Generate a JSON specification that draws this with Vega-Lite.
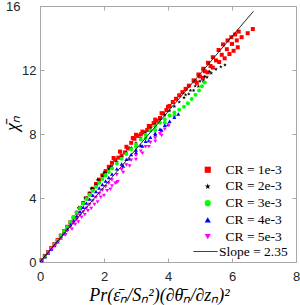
{
  "$schema": "https://vega.github.io/schema/vega-lite/v6.json",
  "width": 256,
  "height": 256,
  "autosize": {"type": "none"},
  "padding": {"left": 40, "top": 6, "right": 4, "bottom": 43},
  "background": "white",
  "config": {
    "view": {"stroke": null},
    "axis": {
      "grid": false,
      "domainColor": "#a8a8a8",
      "tickColor": "#a8a8a8",
      "labelColor": "#262626",
      "labelFont": "Liberation Sans",
      "labelFontSize": 13,
      "tickSize": -4,
      "titleFont": "Liberation Serif",
      "titleFontStyle": "italic",
      "titleFontWeight": "normal",
      "titleFontSize": 18,
      "titleColor": "#000000"
    },
    "legend": {"labelFont": "Liberation Serif", "labelFontSize": 13.5, "labelColor": "#000000", "padding": 0}
  },
  "datasets": {
    "pts": [
      {"s":"CR = 1e-3","x":0.05,"y":0.12},{"s":"CR = 1e-3","x":0.15,"y":0.38},{"s":"CR = 1e-3","x":0.25,"y":0.62},{"s":"CR = 1e-3","x":0.35,"y":0.88},{"s":"CR = 1e-3","x":0.45,"y":1.12},{"s":"CR = 1e-3","x":0.55,"y":1.38},{"s":"CR = 1e-3","x":0.65,"y":1.65},{"s":"CR = 1e-3","x":0.75,"y":1.92},{"s":"CR = 1e-3","x":0.85,"y":2.2},{"s":"CR = 1e-3","x":0.95,"y":2.48},{"s":"CR = 1e-3","x":1.05,"y":2.78},{"s":"CR = 1e-3","x":1.15,"y":3.08},{"s":"CR = 1e-3","x":1.25,"y":3.38},{"s":"CR = 1e-3","x":1.35,"y":3.68},{"s":"CR = 1e-3","x":1.45,"y":3.98},{"s":"CR = 1e-3","x":1.55,"y":4.28},{"s":"CR = 1e-3","x":1.65,"y":4.58},{"s":"CR = 1e-3","x":1.75,"y":4.88},{"s":"CR = 1e-3","x":1.85,"y":5.15},{"s":"CR = 1e-3","x":1.95,"y":5.42},{"s":"CR = 1e-3","x":2.05,"y":5.68},{"s":"CR = 1e-3","x":2.15,"y":5.95},{"s":"CR = 1e-3","x":2.25,"y":6.2},{"s":"CR = 1e-3","x":2.35,"y":6.38},{"s":"CR = 1e-3","x":2.45,"y":6.52},{"s":"CR = 1e-3","x":2.55,"y":6.65},{"s":"CR = 1e-3","x":2.65,"y":6.85},{"s":"CR = 1e-3","x":2.75,"y":7.1},{"s":"CR = 1e-3","x":2.85,"y":7.45},{"s":"CR = 1e-3","x":2.95,"y":7.7},{"s":"CR = 1e-3","x":3.05,"y":7.88},{"s":"CR = 1e-3","x":3.15,"y":7.98},{"s":"CR = 1e-3","x":3.25,"y":8.1},{"s":"CR = 1e-3","x":3.35,"y":8.25},{"s":"CR = 1e-3","x":3.45,"y":8.5},{"s":"CR = 1e-3","x":3.55,"y":8.68},{"s":"CR = 1e-3","x":3.65,"y":8.82},{"s":"CR = 1e-3","x":3.75,"y":9.0},{"s":"CR = 1e-3","x":3.85,"y":9.28},{"s":"CR = 1e-3","x":3.95,"y":9.5},{"s":"CR = 1e-3","x":4.05,"y":9.75},{"s":"CR = 1e-3","x":4.15,"y":10.0},{"s":"CR = 1e-3","x":4.25,"y":10.2},{"s":"CR = 1e-3","x":4.35,"y":10.42},{"s":"CR = 1e-3","x":4.45,"y":10.62},{"s":"CR = 1e-3","x":4.55,"y":10.82},{"s":"CR = 1e-3","x":4.65,"y":11.02},
      {"s":"CR = 1e-3","x":2.3,"y":6.5},{"s":"CR = 1e-3","x":2.5,"y":6.9},{"s":"CR = 1e-3","x":2.7,"y":7.2},{"s":"CR = 1e-3","x":2.9,"y":7.75},{"s":"CR = 1e-3","x":3.0,"y":7.95},{"s":"CR = 1e-3","x":3.2,"y":8.15},{"s":"CR = 1e-3","x":3.4,"y":8.5},{"s":"CR = 1e-3","x":3.6,"y":8.9},{"s":"CR = 1e-3","x":3.8,"y":9.3},{"s":"CR = 1e-3","x":4.0,"y":9.7},
      {"s":"CR = 1e-3","x":4.8,"y":11.35},{"s":"CR = 1e-3","x":4.95,"y":11.72},{"s":"CR = 1e-3","x":5.1,"y":12.08},{"s":"CR = 1e-3","x":5.25,"y":12.45},{"s":"CR = 1e-3","x":5.4,"y":12.8},{"s":"CR = 1e-3","x":5.58,"y":13.25},{"s":"CR = 1e-3","x":5.72,"y":13.6},{"s":"CR = 1e-3","x":5.86,"y":13.85},{"s":"CR = 1e-3","x":5.98,"y":14.05},{"s":"CR = 1e-3","x":6.1,"y":14.22},{"s":"CR = 1e-3","x":6.21,"y":14.4},
      {"s":"CR = 1e-3","x":4.85,"y":11.3},{"s":"CR = 1e-3","x":5.0,"y":11.6},{"s":"CR = 1e-3","x":5.15,"y":11.92},{"s":"CR = 1e-3","x":5.33,"y":12.25},{"s":"CR = 1e-3","x":5.5,"y":12.6},{"s":"CR = 1e-3","x":5.68,"y":12.95},{"s":"CR = 1e-3","x":5.84,"y":13.3},{"s":"CR = 1e-3","x":6.0,"y":13.63},{"s":"CR = 1e-3","x":6.15,"y":13.85},{"s":"CR = 1e-3","x":6.3,"y":14.05},{"s":"CR = 1e-3","x":6.49,"y":14.3},{"s":"CR = 1e-3","x":6.65,"y":14.56},
      {"s":"CR = 1e-3","x":4.9,"y":11.2},{"s":"CR = 1e-3","x":5.09,"y":11.5},{"s":"CR = 1e-3","x":5.24,"y":11.85},{"s":"CR = 1e-3","x":5.4,"y":12.15},{"s":"CR = 1e-3","x":5.6,"y":12.5},{"s":"CR = 1e-3","x":5.77,"y":12.73},{"s":"CR = 1e-3","x":5.92,"y":13.0},{"s":"CR = 1e-3","x":6.05,"y":13.2},{"s":"CR = 1e-3","x":6.18,"y":13.42},
      {"s":"CR = 2e-3","x":0.05,"y":0.12},{"s":"CR = 2e-3","x":0.15,"y":0.36},{"s":"CR = 2e-3","x":0.25,"y":0.6},{"s":"CR = 2e-3","x":0.35,"y":0.85},{"s":"CR = 2e-3","x":0.45,"y":1.1},{"s":"CR = 2e-3","x":0.55,"y":1.36},{"s":"CR = 2e-3","x":0.65,"y":1.64},{"s":"CR = 2e-3","x":0.75,"y":1.93},{"s":"CR = 2e-3","x":0.85,"y":2.22},{"s":"CR = 2e-3","x":0.95,"y":2.52},{"s":"CR = 2e-3","x":1.05,"y":2.82},{"s":"CR = 2e-3","x":1.15,"y":3.12},{"s":"CR = 2e-3","x":1.25,"y":3.42},{"s":"CR = 2e-3","x":1.35,"y":3.72},{"s":"CR = 2e-3","x":1.45,"y":4.02},{"s":"CR = 2e-3","x":1.55,"y":4.3},{"s":"CR = 2e-3","x":1.65,"y":4.58},{"s":"CR = 2e-3","x":1.75,"y":4.85},{"s":"CR = 2e-3","x":1.85,"y":5.12},{"s":"CR = 2e-3","x":1.95,"y":5.38},{"s":"CR = 2e-3","x":2.05,"y":5.6},{"s":"CR = 2e-3","x":2.15,"y":5.8},{"s":"CR = 2e-3","x":2.25,"y":6.0},{"s":"CR = 2e-3","x":2.4,"y":6.28},{"s":"CR = 2e-3","x":2.55,"y":6.55},{"s":"CR = 2e-3","x":2.7,"y":6.85},{"s":"CR = 2e-3","x":2.85,"y":7.15},{"s":"CR = 2e-3","x":3.0,"y":7.45},{"s":"CR = 2e-3","x":3.15,"y":7.75},{"s":"CR = 2e-3","x":3.3,"y":8.05},{"s":"CR = 2e-3","x":3.45,"y":8.35},{"s":"CR = 2e-3","x":3.6,"y":8.62},{"s":"CR = 2e-3","x":3.75,"y":8.9},{"s":"CR = 2e-3","x":3.9,"y":9.18},{"s":"CR = 2e-3","x":4.05,"y":9.45},{"s":"CR = 2e-3","x":4.2,"y":9.72},{"s":"CR = 2e-3","x":4.35,"y":10.0},{"s":"CR = 2e-3","x":4.5,"y":10.27},{"s":"CR = 2e-3","x":4.65,"y":10.5},{"s":"CR = 2e-3","x":4.8,"y":10.72},{"s":"CR = 2e-3","x":4.95,"y":10.98},{"s":"CR = 2e-3","x":5.1,"y":11.3},{"s":"CR = 2e-3","x":5.22,"y":11.55},{"s":"CR = 2e-3","x":5.35,"y":11.8},{"s":"CR = 2e-3","x":5.5,"y":12.05},{"s":"CR = 2e-3","x":5.65,"y":12.2},{"s":"CR = 2e-3","x":5.78,"y":12.32},
      {"s":"CR = 2e-3","x":4.55,"y":10.45},{"s":"CR = 2e-3","x":4.7,"y":10.72},{"s":"CR = 2e-3","x":4.85,"y":11.0},{"s":"CR = 2e-3","x":5.0,"y":11.3},{"s":"CR = 2e-3","x":5.15,"y":11.6},{"s":"CR = 2e-3","x":5.3,"y":11.9},
      {"s":"CR = 2e-3","x":1.2,"y":3.4},{"s":"CR = 2e-3","x":1.4,"y":4.0},{"s":"CR = 2e-3","x":1.6,"y":4.6},{"s":"CR = 2e-3","x":1.8,"y":5.15},{"s":"CR = 2e-3","x":2.0,"y":5.6},{"s":"CR = 2e-3","x":2.2,"y":5.95},
      {"s":"CR = 3e-3","x":0.05,"y":0.11},{"s":"CR = 3e-3","x":0.15,"y":0.35},{"s":"CR = 3e-3","x":0.25,"y":0.59},{"s":"CR = 3e-3","x":0.35,"y":0.84},{"s":"CR = 3e-3","x":0.45,"y":1.09},{"s":"CR = 3e-3","x":0.55,"y":1.35},{"s":"CR = 3e-3","x":0.65,"y":1.62},{"s":"CR = 3e-3","x":0.75,"y":1.9},{"s":"CR = 3e-3","x":0.85,"y":2.19},{"s":"CR = 3e-3","x":0.95,"y":2.5},{"s":"CR = 3e-3","x":1.05,"y":2.8},{"s":"CR = 3e-3","x":1.15,"y":3.1},{"s":"CR = 3e-3","x":1.25,"y":3.38},{"s":"CR = 3e-3","x":1.35,"y":3.66},{"s":"CR = 3e-3","x":1.45,"y":3.93},{"s":"CR = 3e-3","x":1.55,"y":4.2},{"s":"CR = 3e-3","x":1.65,"y":4.45},{"s":"CR = 3e-3","x":1.75,"y":4.7},{"s":"CR = 3e-3","x":1.85,"y":4.95},{"s":"CR = 3e-3","x":1.95,"y":5.18},{"s":"CR = 3e-3","x":2.05,"y":5.4},{"s":"CR = 3e-3","x":2.15,"y":5.62},{"s":"CR = 3e-3","x":2.25,"y":5.84},{"s":"CR = 3e-3","x":2.4,"y":6.15},{"s":"CR = 3e-3","x":2.55,"y":6.45},{"s":"CR = 3e-3","x":2.7,"y":6.75},{"s":"CR = 3e-3","x":2.85,"y":7.05},{"s":"CR = 3e-3","x":3.0,"y":7.35},{"s":"CR = 3e-3","x":3.15,"y":7.65},{"s":"CR = 3e-3","x":3.3,"y":7.95},{"s":"CR = 3e-3","x":3.45,"y":8.22},{"s":"CR = 3e-3","x":3.6,"y":8.48},{"s":"CR = 3e-3","x":3.75,"y":8.7},{"s":"CR = 3e-3","x":3.9,"y":8.92},{"s":"CR = 3e-3","x":4.05,"y":9.15},{"s":"CR = 3e-3","x":4.2,"y":9.35},{"s":"CR = 3e-3","x":4.35,"y":9.52},{"s":"CR = 3e-3","x":4.5,"y":9.7},{"s":"CR = 3e-3","x":4.62,"y":9.92},{"s":"CR = 3e-3","x":4.74,"y":10.18},{"s":"CR = 3e-3","x":4.86,"y":10.45},{"s":"CR = 3e-3","x":4.97,"y":10.72},{"s":"CR = 3e-3","x":5.06,"y":10.98},{"s":"CR = 3e-3","x":5.15,"y":11.22},
      {"s":"CR = 3e-3","x":3.0,"y":7.2},{"s":"CR = 3e-3","x":3.3,"y":7.75},{"s":"CR = 3e-3","x":3.6,"y":8.25},{"s":"CR = 3e-3","x":3.9,"y":8.7},{"s":"CR = 3e-3","x":4.2,"y":9.15},
      {"s":"CR = 4e-3","x":0.05,"y":0.1},{"s":"CR = 4e-3","x":0.15,"y":0.33},{"s":"CR = 4e-3","x":0.25,"y":0.56},{"s":"CR = 4e-3","x":0.35,"y":0.8},{"s":"CR = 4e-3","x":0.45,"y":1.03},{"s":"CR = 4e-3","x":0.55,"y":1.27},{"s":"CR = 4e-3","x":0.65,"y":1.52},{"s":"CR = 4e-3","x":0.75,"y":1.78},{"s":"CR = 4e-3","x":0.85,"y":2.05},{"s":"CR = 4e-3","x":0.95,"y":2.33},{"s":"CR = 4e-3","x":1.05,"y":2.6},{"s":"CR = 4e-3","x":1.15,"y":2.88},{"s":"CR = 4e-3","x":1.25,"y":3.15},{"s":"CR = 4e-3","x":1.35,"y":3.42},{"s":"CR = 4e-3","x":1.45,"y":3.68},{"s":"CR = 4e-3","x":1.55,"y":3.93},{"s":"CR = 4e-3","x":1.65,"y":4.17},{"s":"CR = 4e-3","x":1.75,"y":4.4},{"s":"CR = 4e-3","x":1.85,"y":4.62},{"s":"CR = 4e-3","x":1.95,"y":4.84},{"s":"CR = 4e-3","x":2.05,"y":5.06},{"s":"CR = 4e-3","x":2.15,"y":5.28},{"s":"CR = 4e-3","x":2.25,"y":5.5},{"s":"CR = 4e-3","x":2.4,"y":5.82},{"s":"CR = 4e-3","x":2.55,"y":6.12},{"s":"CR = 4e-3","x":2.7,"y":6.42},{"s":"CR = 4e-3","x":2.85,"y":6.72},{"s":"CR = 4e-3","x":3.0,"y":7.0},{"s":"CR = 4e-3","x":3.15,"y":7.28},{"s":"CR = 4e-3","x":3.3,"y":7.55},{"s":"CR = 4e-3","x":3.45,"y":7.8},{"s":"CR = 4e-3","x":3.6,"y":8.05},{"s":"CR = 4e-3","x":3.75,"y":8.3},{"s":"CR = 4e-3","x":3.9,"y":8.55},{"s":"CR = 4e-3","x":4.05,"y":8.8},{"s":"CR = 4e-3","x":4.2,"y":9.05},{"s":"CR = 4e-3","x":4.32,"y":9.25},
      {"s":"CR = 4e-3","x":2.6,"y":6.0},{"s":"CR = 4e-3","x":2.8,"y":6.45},{"s":"CR = 4e-3","x":3.0,"y":6.85},{"s":"CR = 4e-3","x":3.2,"y":7.25},{"s":"CR = 4e-3","x":3.4,"y":7.6},{"s":"CR = 4e-3","x":3.6,"y":7.95},{"s":"CR = 4e-3","x":3.8,"y":8.25},{"s":"CR = 4e-3","x":4.0,"y":8.6},
      {"s":"CR = 5e-3","x":0.05,"y":0.1},{"s":"CR = 5e-3","x":0.15,"y":0.32},{"s":"CR = 5e-3","x":0.25,"y":0.54},{"s":"CR = 5e-3","x":0.35,"y":0.77},{"s":"CR = 5e-3","x":0.45,"y":1.0},{"s":"CR = 5e-3","x":0.55,"y":1.23},{"s":"CR = 5e-3","x":0.65,"y":1.46},{"s":"CR = 5e-3","x":0.75,"y":1.7},{"s":"CR = 5e-3","x":0.85,"y":1.94},{"s":"CR = 5e-3","x":0.95,"y":2.18},{"s":"CR = 5e-3","x":1.05,"y":2.42},{"s":"CR = 5e-3","x":1.15,"y":2.66},{"s":"CR = 5e-3","x":1.25,"y":2.9},{"s":"CR = 5e-3","x":1.35,"y":3.13},{"s":"CR = 5e-3","x":1.45,"y":3.36},{"s":"CR = 5e-3","x":1.55,"y":3.59},{"s":"CR = 5e-3","x":1.65,"y":3.82},{"s":"CR = 5e-3","x":1.75,"y":4.04},{"s":"CR = 5e-3","x":1.85,"y":4.26},{"s":"CR = 5e-3","x":1.95,"y":4.48},{"s":"CR = 5e-3","x":2.05,"y":4.7},{"s":"CR = 5e-3","x":2.15,"y":4.92},{"s":"CR = 5e-3","x":2.25,"y":5.13},{"s":"CR = 5e-3","x":2.4,"y":5.45},{"s":"CR = 5e-3","x":2.55,"y":5.76},{"s":"CR = 5e-3","x":2.7,"y":6.06},{"s":"CR = 5e-3","x":2.85,"y":6.36},{"s":"CR = 5e-3","x":3.0,"y":6.65},{"s":"CR = 5e-3","x":3.15,"y":6.93},{"s":"CR = 5e-3","x":3.3,"y":7.2},{"s":"CR = 5e-3","x":3.45,"y":7.47},{"s":"CR = 5e-3","x":3.6,"y":7.74},{"s":"CR = 5e-3","x":3.75,"y":8.02},{"s":"CR = 5e-3","x":3.9,"y":8.3},{"s":"CR = 5e-3","x":4.02,"y":8.55},
      {"s":"CR = 5e-3","x":1.1,"y":2.35},{"s":"CR = 5e-3","x":1.3,"y":2.8},{"s":"CR = 5e-3","x":1.5,"y":3.2},{"s":"CR = 5e-3","x":1.7,"y":3.6},{"s":"CR = 5e-3","x":1.9,"y":4.05},{"s":"CR = 5e-3","x":2.1,"y":4.45},{"s":"CR = 5e-3","x":2.25,"y":4.75},{"s":"CR = 5e-3","x":2.35,"y":4.92},{"s":"CR = 5e-3","x":2.43,"y":5.02},
      {"s":"CR = 5e-3","x":0.8,"y":1.7},{"s":"CR = 5e-3","x":1.0,"y":2.05},{"s":"CR = 5e-3","x":1.2,"y":2.5},{"s":"CR = 5e-3","x":1.4,"y":2.95},{"s":"CR = 5e-3","x":1.6,"y":3.35},{"s":"CR = 5e-3","x":1.8,"y":3.75},{"s":"CR = 5e-3","x":2.0,"y":4.15},{"s":"CR = 5e-3","x":2.2,"y":4.55},{"s":"CR = 5e-3","x":2.4,"y":4.95},{"s":"CR = 5e-3","x":2.6,"y":5.6},{"s":"CR = 5e-3","x":2.8,"y":6.0},{"s":"CR = 5e-3","x":3.0,"y":6.4},{"s":"CR = 5e-3","x":3.2,"y":6.8},{"s":"CR = 5e-3","x":3.4,"y":7.2},{"s":"CR = 5e-3","x":3.6,"y":7.55},{"s":"CR = 5e-3","x":3.8,"y":7.9}
    ],
    "fit": [{"s": "Slope = 2.35", "x": 0, "y": 0}, {"s": "Slope = 2.35", "x": 6.67, "y": 15.67}]
  },
  "layer": [
    {
      "data": {"name": "pts"},
      "mark": {"type": "point", "filled": true, "opacity": 1, "size": 16},
      "encoding": {
        "x": {"field": "x", "type": "quantitative",
              "scale": {"domain": [0, 8], "nice": false, "zero": false},
              "axis": {"values": [0, 2, 4, 6, 8], "labelPadding": 12, "labelFlush": false,
                       "title": "Pr(ε̄ₙ/Sₙ²)(∂θ̄ₙ/∂zₙ)²", "titleX": 119, "titleY": 33, "titleBaseline": "middle", "titleAlign": "center"}},
        "y": {"field": "y", "type": "quantitative",
              "scale": {"domain": [0, 16], "nice": false, "zero": false},
              "axis": {"values": [0, 4, 8, 12, 16], "labelFlush": false,
                       "labelPadding": {"condition": {"test": "datum.value == 16", "value": 24}, "value": 8},
                       "title": "χ̄ₙ", "titleX": -28, "titleY": 117, "titleBaseline": "middle", "titleAlign": "center"}},
        "color": {"field": "s", "type": "nominal",
                  "scale": {"domain": ["CR = 1e-3", "CR = 2e-3", "CR = 3e-3", "CR = 4e-3", "CR = 5e-3"],
                            "range": ["#ff0000", "#000000", "#00ff00", "#0000ff", "#ff00ff"]},
                  "legend": {"title": null, "orient": "none", "legendX": 161, "legendY": 157, "labelOffset": 11, "rowPadding": 1.7, "symbolSize": 38, "symbolStrokeWidth": 0, "symbolOpacity": 1}},
        "shape": {"field": "s", "type": "nominal",
                  "scale": {"domain": ["CR = 1e-3", "CR = 2e-3", "CR = 3e-3", "CR = 4e-3", "CR = 5e-3"],
                            "range": ["square", "M0,-1L0.2245,-0.309L0.951,-0.309L0.363,0.118L0.588,0.809L0,0.382L-0.588,0.809L-0.363,0.118L-0.951,-0.309L-0.2245,-0.309Z", "circle", "triangle-up", "triangle-down"]},
                  "legend": {"title": null, "orient": "none", "legendX": 161, "legendY": 157, "labelOffset": 11, "rowPadding": 1.7, "symbolSize": 38, "symbolStrokeWidth": 0, "symbolOpacity": 1}}
      }
    },
    {
      "data": {"name": "fit"},
      "mark": {"type": "line", "color": "#000000", "strokeWidth": 1},
      "encoding": {
        "x": {"field": "x", "type": "quantitative", "axis": {"orient": "top", "values": [0, 2, 4, 6, 8], "labels": false, "title": null}},
        "y": {"field": "y", "type": "quantitative", "axis": {"orient": "right", "values": [0, 4, 8, 12, 16], "labels": false, "title": null}},
        "strokeDash": {"field": "s", "type": "nominal",
                       "scale": {"domain": ["Slope = 2.35"], "range": [[1, 0]]},
                       "legend": {"title": null, "orient": "none", "legendX": 153, "legendY": 233, "labelOffset": 1, "symbolSize": 576, "symbolStrokeWidth": 1, "symbolStrokeColor": "#000000"}}
      }
    }
  ],
  "resolve": {"axis": {"x": "independent", "y": "independent"}}
}
